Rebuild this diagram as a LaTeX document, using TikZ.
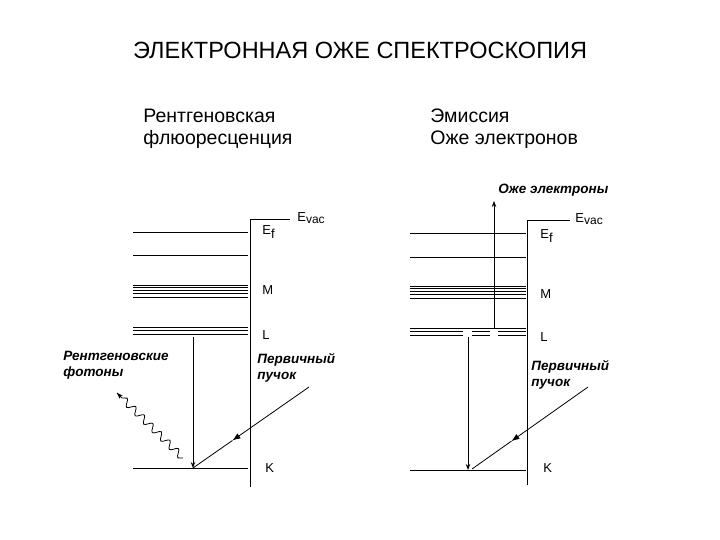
\documentclass[tikz,border=0pt]{standalone}
\usepackage{fontspec}
\setmainfont{Liberation Sans}
\usetikzlibrary{decorations.pathmorphing,arrows.meta,calc}
\begin{document}
\begin{tikzpicture}[x=1pt,y=-1pt,line width=0.8pt,
  lvl/.style={line width=0.7pt},
  lbl/.style={font=\fontsize{13}{15}\selectfont,anchor=west,inner sep=0},
  itl/.style={font=\fontsize{13.5}{16}\selectfont\bfseries\itshape,align=left,anchor=west,inner sep=0},
  beamtip/.style={-{Latex[length=8pt,width=6pt]}},
  tip/.style={-{Stealth[length=6pt,width=4.5pt]}}]
\useasboundingbox (0,0) rectangle (720,540);
\node (title) at (360,50) {\fontsize{23.5}{28}\selectfont ЭЛЕКТРОННАЯ ОЖЕ СПЕКТРОСКОПИЯ};
\node[anchor=west,align=left,font=\fontsize{19.5}{22}\selectfont,inner sep=0] (s1) at (143,129) {Рентгеновская\\флюоресценция};
\node[anchor=west,align=left,font=\fontsize{19.5}{22}\selectfont,inner sep=0] (s2) at (430,129) {Эмиссия\\Оже электронов};
% left panel
\coordinate (lt) at (250,219); \coordinate (lb) at (250,487);
\draw (lb) -- (lt) -- (290,219);
\node[lbl] (evl) at (297,218) {E\raisebox{-0.2ex}{\fontsize{12}{14}\selectfont vac}};
\foreach \y in {232,255,285,287.5,290,293,297,327,330,334,468} \draw[lvl] (133,\y) -- (248,\y);
\node[lbl] at (262,232) {E\raisebox{-0.6ex}{f}};
\node[lbl] at (262,290) {M};
\node[lbl] at (262,335) {L};
\node[lbl] at (265,468) {K};
\coordinate (lk) at (193,468);
\coordinate (ls) at (193,337);
\draw[tip] (ls) -- (lk);
\coordinate (lp) at (309,387);
\coordinate (lm) at ($(lp)!0.66!(lk)$);
\draw[beamtip] (lp) -- (lm);
\draw (lm) -- (lk);
\coordinate (w1) at (183,458); \coordinate (w2) at (117,393);
\draw[decorate,decoration={snake,amplitude=3.5pt,segment length=12pt,post length=4pt}] (w1) -- (w2);
\draw[tip] ($(w2)!4pt!(w1)$) -- (w2);
\node[itl] at (63,365) {Рентгеновские\\фотоны};
\node[itl] at (257,368) {Первичный\\пучок};
% right panel
\coordinate (rt) at (527,220); \coordinate (rb) at (527,485);
\draw (rb) -- (rt) -- (570,220);
\node[lbl] at (575,219) {E\raisebox{-0.2ex}{\fontsize{12}{14}\selectfont vac}};
\foreach \y in {233,257,286,288.5,291,294,298,328,470} \draw[lvl] (410,\y) -- (526,\y);
\foreach \y in {331,335} {\draw[lvl] (410,\y) -- (463,\y); \draw[lvl] (472,\y) -- (490,\y); \draw[lvl] (498,\y) -- (526,\y);}
\node[lbl] at (540,236) {E\raisebox{-0.6ex}{f}};
\node[lbl] at (540,294) {M};
\node[lbl] at (540,337) {L};
\node[lbl] at (543,468) {K};
\coordinate (ru0) at (494,328); \coordinate (ru1) at (494,201);
\draw[tip] (ru0) -- (ru1);
\node[itl] at (498,190) {Оже электроны};
\coordinate (rs) at (468,337); \coordinate (rk) at (468,470);
\draw[tip] (rs) -- (rk);
\coordinate (rp) at (588,387); \coordinate (rk2) at (472,469);
\coordinate (rm) at ($(rp)!0.66!(rk2)$);
\draw[beamtip] (rp) -- (rm);
\draw (rm) -- (rk2);
\node[itl] at (531,375) {Первичный\\пучок};
\end{tikzpicture}
\end{document}
